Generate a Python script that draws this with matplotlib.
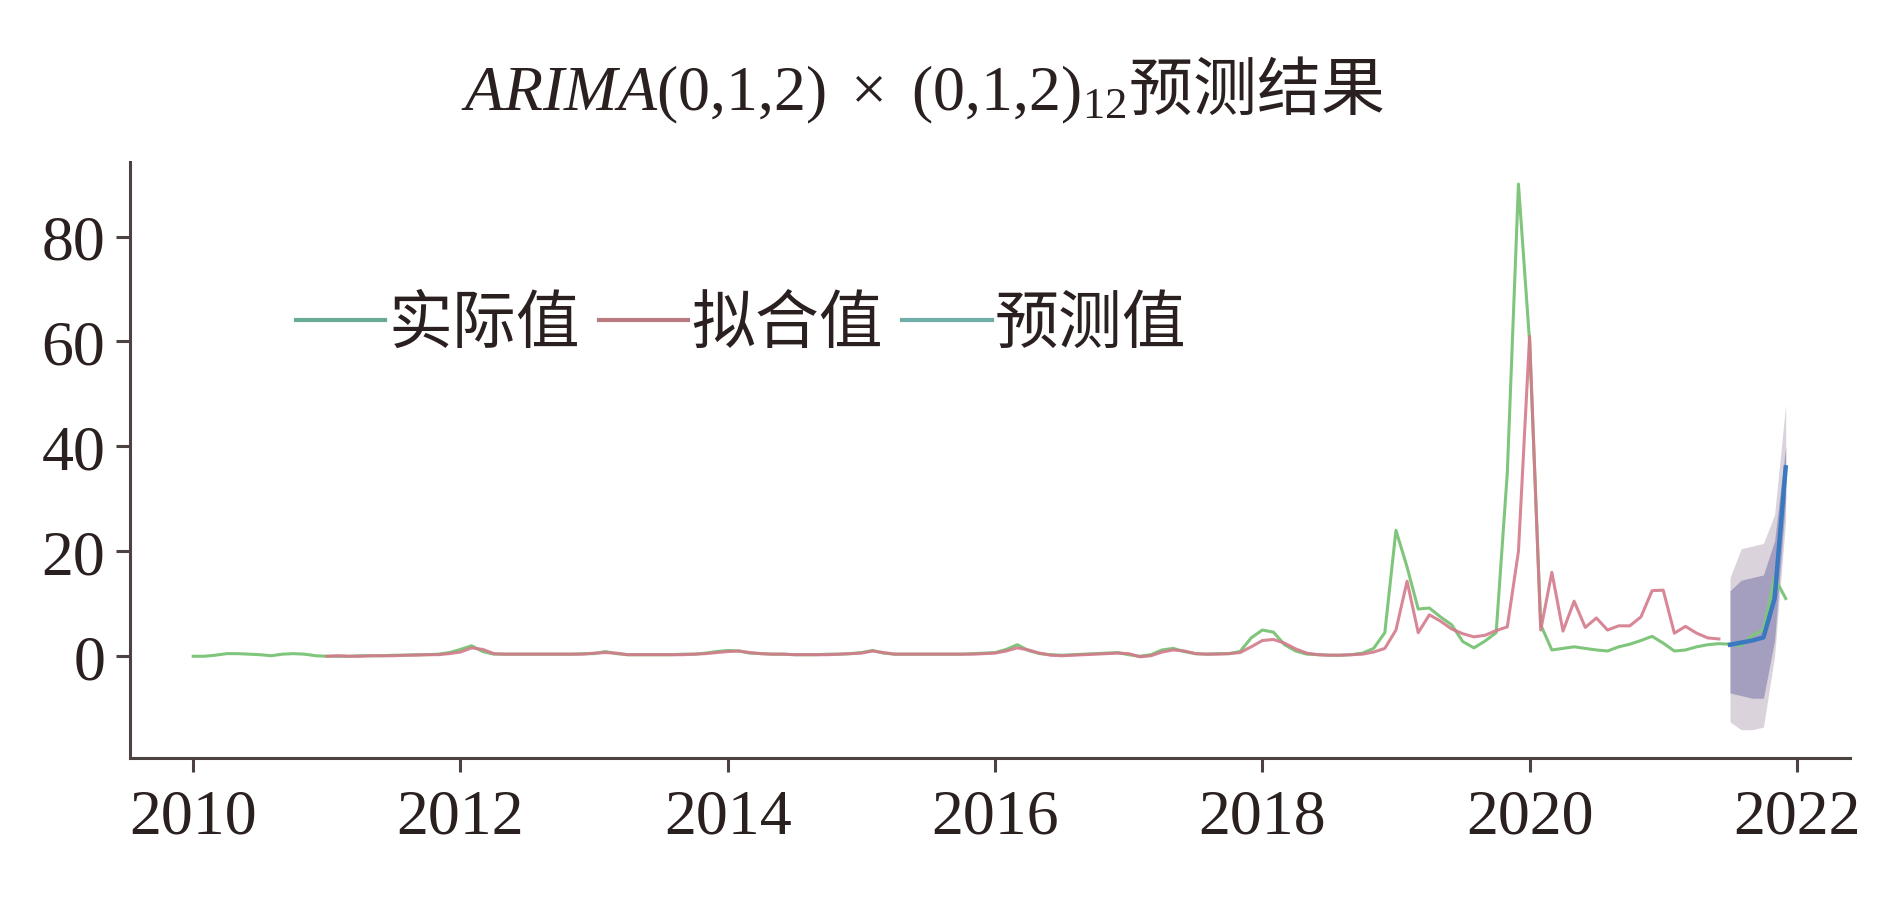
import numpy as np
import matplotlib
matplotlib.use("Agg")
import matplotlib.pyplot as plt
from matplotlib.lines import Line2D

plt.rcParams['font.family'] = ['Liberation Serif', 'Noto Sans CJK SC']
plt.rcParams['mathtext.fontset'] = 'custom'
plt.rcParams['mathtext.rm'] = 'Liberation Serif'
plt.rcParams['mathtext.it'] = 'Liberation Serif:italic'

# monthly data, Jan 2010 .. Dec 2021
actual = [
    0.0, 0.0, 0.2, 0.5, 0.5, 0.4, 0.3, 0.1, 0.4, 0.5, 0.4, 0.1,      # 2010
    0.0, 0.0, 0.0, 0.1, 0.1, 0.1, 0.2, 0.2, 0.3, 0.3, 0.4, 0.7,      # 2011
    1.3, 2.0, 0.9, 0.4, 0.4, 0.4, 0.4, 0.4, 0.4, 0.4, 0.4, 0.5,      # 2012
    0.5, 0.9, 0.5, 0.3, 0.3, 0.3, 0.3, 0.3, 0.4, 0.4, 0.6, 0.9,      # 2013
    1.1, 1.0, 0.6, 0.5, 0.4, 0.4, 0.3, 0.3, 0.3, 0.4, 0.4, 0.5,      # 2014
    0.7, 1.1, 0.6, 0.4, 0.4, 0.4, 0.4, 0.4, 0.4, 0.4, 0.5, 0.6,      # 2015
    0.7, 1.3, 2.2, 1.1, 0.5, 0.3, 0.2, 0.3, 0.4, 0.5, 0.6, 0.7,      # 2016
    0.3, 0.0, 0.3, 1.2, 1.5, 0.9, 0.5, 0.4, 0.5, 0.5, 0.9, 3.5,      # 2017
    5.0, 4.6, 2.2, 1.0, 0.4, 0.3, 0.2, 0.2, 0.3, 0.6, 1.5, 4.5,      # 2018
    24.0, 17.0, 9.0, 9.2, 7.5, 6.0, 2.8, 1.6, 2.9, 4.5, 35.0, 90.0,  # 2019
    60.0, 6.0, 1.2, 1.5, 1.8, 1.5, 1.2, 1.0, 1.8, 2.3, 3.0, 3.8,     # 2020
    2.5, 1.0, 1.2, 1.8, 2.2, 2.4, 2.3, 2.0, 4.0, 5.0, 15.0, 11.0,    # 2021
]

# fitted values, Jan 2011 .. Jun 2021
fitted = [
    0.0, 0.1, 0.0, 0.0, 0.1, 0.1, 0.1, 0.2, 0.2, 0.3, 0.3, 0.5,      # 2011
    0.8, 1.6, 1.3, 0.5, 0.4, 0.4, 0.4, 0.4, 0.4, 0.4, 0.4, 0.4,      # 2012
    0.6, 0.7, 0.6, 0.3, 0.3, 0.3, 0.3, 0.3, 0.3, 0.4, 0.5, 0.7,      # 2013
    0.9, 1.0, 0.7, 0.5, 0.4, 0.4, 0.3, 0.3, 0.3, 0.3, 0.4, 0.5,      # 2014
    0.6, 1.0, 0.7, 0.4, 0.4, 0.4, 0.4, 0.4, 0.4, 0.4, 0.4, 0.5,      # 2015
    0.6, 1.0, 1.6, 1.2, 0.6, 0.2, 0.1, 0.2, 0.3, 0.4, 0.5, 0.6,      # 2016
    0.5, -0.1, 0.1, 0.8, 1.2, 1.0, 0.5, 0.4, 0.4, 0.5, 0.7, 1.8,     # 2017
    3.0, 3.2, 2.5, 1.4, 0.6, 0.3, 0.2, 0.2, 0.3, 0.4, 0.8, 1.5,      # 2018
    5.0, 14.3, 4.5, 7.9, 6.7, 5.2, 4.3, 3.7, 4.0, 4.9, 5.6, 20.0,    # 2019
    61.0, 5.0, 16.0, 4.8, 10.5, 5.5, 7.3, 5.0, 5.8, 5.8, 7.5, 12.5,  # 2020
    12.6, 4.4, 5.7, 4.4, 3.5, 3.3,                                   # 2021
]

# forecast Jul 2021 .. Dec 2021 with confidence bands
forecast = [2.2, 2.6, 3.0, 3.6, 11.0, 36.0]
outer_lo = [-12.5, -14.0, -14.0, -13.5, 0.0, 26.0]
outer_hi = [15.0, 20.5, 21.0, 21.5, 27.0, 48.0]
inner_lo = [-7.0, -7.5, -8.0, -8.0, 3.0, 30.0]
inner_hi = [12.5, 14.5, 15.0, 15.5, 22.0, 40.0]

legend_labels = ['实际值', '拟合值', '预测值']
legend_colors = ['#6aab97', '#b97a80', '#6eaea6']

t_actual = 2010 + np.arange(len(actual)) / 12
t_fitted = 2011 + np.arange(len(fitted)) / 12
t_fc = 2021.5 + np.arange(len(forecast)) / 12

fig = plt.figure(figsize=(18.9, 9.03), dpi=100)
ax = fig.add_axes([0.069, 0.16, 0.91, 0.66])

ax.fill_between(t_fc, outer_lo, outer_hi, color='#dad3db', lw=0, zorder=1)
ax.fill_between(t_fc, inner_lo, inner_hi, color='#a49fbf', lw=0, zorder=2)
ax.plot(t_actual, actual, color='#7fc67c', lw=2.2, zorder=3)
ax.plot(t_fitted, fitted, color='#d47a8c', lw=2.2, alpha=0.9, zorder=4)
ax.plot(t_fc, forecast, color='#3a78c0', lw=3.2, zorder=5)

ax.set_xlim(2009.53, 2022.4)
ax.set_ylim(-19.3, 94.3)
ax.set_xticks(range(2010, 2023, 2))
ax.set_yticks([0, 20, 40, 60, 80])

spine_color = '#4c4242'
for s in ['top', 'right']:
    ax.spines[s].set_visible(False)
for s in ['left', 'bottom']:
    ax.spines[s].set_color(spine_color)
    ax.spines[s].set_linewidth(2.2)
ax.tick_params(axis='both', direction='out', length=10, width=2.2,
               color=spine_color, labelsize=46, labelcolor='#2a2020')
ax.tick_params(axis='x', pad=12)
ax.tick_params(axis='y', pad=8)

handles = [Line2D([], [], color=c, lw=3) for c in legend_colors]
ax.legend(handles, legend_labels, ncol=3, frameon=False,
          loc='center left', bbox_to_anchor=(0.096, 0.728),
          borderaxespad=0, borderpad=0, handlelength=1.4,
          handletextpad=0.05, columnspacing=0.3,
          prop={'family': 'Noto Sans CJK SC', 'size': 46},
          labelcolor='#2a2020')

fig.text(0.488, 0.9,
         r'$\mathit{ARIMA}(0{,}1{,}2)\ \times\ (0{,}1{,}2)_{12}$预测结果',
         ha='center', va='center', fontsize=46, color='#2a2020',
         family='Noto Sans CJK SC')

fig.savefig('out.png', dpi=100)
